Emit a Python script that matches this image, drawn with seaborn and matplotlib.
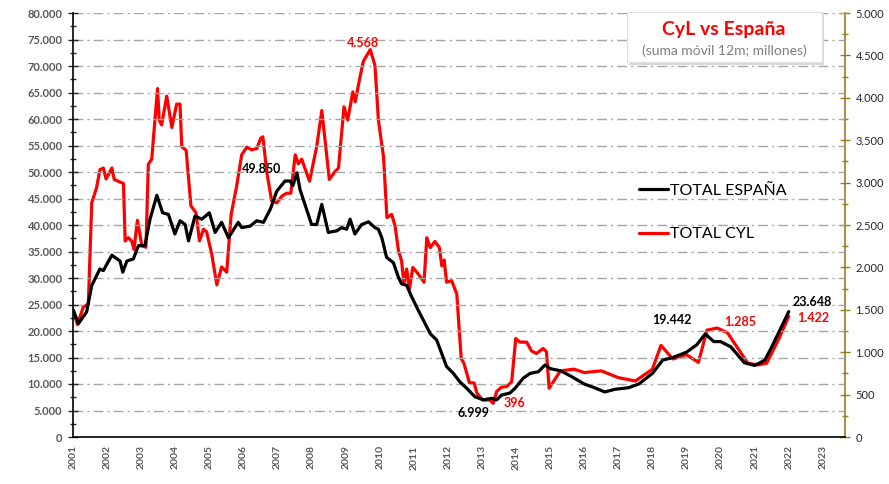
import numpy as np
import pandas as pd
import matplotlib
matplotlib.use("Agg")
import matplotlib.pyplot as plt
from matplotlib.ticker import MultipleLocator, FuncFormatter
import seaborn as sns

# ---------------- data (decimal year, value) ----------------
esp_years = [2001.01, 2001.16, 2001.40, 2001.55, 2001.79, 2001.89, 2002.14, 2002.38, 2002.46, 2002.58,
             2002.77, 2002.92, 2003.11, 2003.26, 2003.46, 2003.63, 2003.80, 2003.99, 2004.14, 2004.29,
             2004.39, 2004.58, 2004.78, 2005.00, 2005.17, 2005.36, 2005.56, 2005.85, 2005.95, 2006.20,
             2006.39, 2006.59, 2006.79, 2006.98, 2007.22, 2007.37, 2007.45, 2007.57, 2007.66, 2008.00,
             2008.15, 2008.30, 2008.49, 2008.74, 2008.88, 2009.03, 2009.13, 2009.27, 2009.47, 2009.67,
             2009.86, 2009.96, 2010.06, 2010.20, 2010.40, 2010.55, 2010.64, 2010.79, 2010.94, 2011.13,
             2011.33, 2011.48, 2011.67, 2011.96, 2012.16, 2012.35, 2012.55, 2012.79, 2013.04, 2013.28,
             2013.43, 2013.57, 2013.82, 2013.97, 2014.21, 2014.41, 2014.65, 2014.85, 2015.00, 2015.30,
             2015.60, 2016.00, 2016.30, 2016.60, 2016.90, 2017.30, 2017.60, 2018.00, 2018.30, 2018.60,
             2019.00, 2019.30, 2019.55, 2019.80, 2020.00, 2020.30, 2020.70, 2021.00, 2021.30, 2021.50,
             2021.80, 2022.00]
esp_values = [23.9, 21.4, 23.6, 28.6, 31.7, 31.4, 34.3, 33.2, 31.1, 33.2,
              33.6, 36.1, 36.1, 41.1, 45.6, 42.3, 42.0, 38.3, 40.8, 40.1,
              37.0, 41.7, 41.1, 42.3, 38.6, 40.5, 37.6, 40.5, 39.5, 39.8,
              40.8, 40.5, 43.0, 46.4, 48.3, 48.3, 47.4, 49.85, 46.7, 40.1,
              40.1, 43.9, 38.6, 38.9, 39.5, 39.2, 41.1, 38.3, 40.1, 40.6,
              39.5, 39.2, 37.6, 33.9, 32.9, 30.1, 28.9, 28.6, 26.4, 23.9,
              21.4, 19.5, 18.3, 13.3, 12.0, 10.4, 9.2, 7.6, 6.999, 7.3,
              7.0, 7.9, 8.3, 9.2, 11.1, 12.0, 12.3, 13.6, 12.9, 12.5,
              11.5, 10.0, 9.3, 8.5, 9.0, 9.3, 10.0, 12.0, 14.5, 15.0,
              16.0, 17.4, 19.442, 18.0, 18.0, 17.0, 14.0, 13.5, 14.5, 17.0,
              21.0, 23.648]
esp_values = [v * 1000 for v in esp_values]

cyl_years = [2001.01, 2001.13, 2001.30, 2001.45, 2001.55, 2001.69, 2001.79, 2001.89, 2001.97, 2002.14,
             2002.21, 2002.38, 2002.48, 2002.53, 2002.62, 2002.72, 2002.79, 2002.89, 2003.02, 2003.14,
             2003.21, 2003.31, 2003.48, 2003.53, 2003.60, 2003.75, 2003.90, 2004.04, 2004.14, 2004.19,
             2004.32, 2004.46, 2004.61, 2004.71, 2004.83, 2004.92, 2005.07, 2005.22, 2005.36, 2005.51,
             2005.64, 2005.80, 2005.95, 2006.10, 2006.24, 2006.39, 2006.51, 2006.57, 2006.69, 2006.83,
             2006.98, 2007.13, 2007.27, 2007.39, 2007.52, 2007.61, 2007.71, 2007.94, 2008.15, 2008.30,
             2008.52, 2008.69, 2008.79, 2008.95, 2009.06, 2009.21, 2009.28, 2009.42, 2009.52, 2009.72,
             2009.86, 2009.96, 2010.11, 2010.21, 2010.35, 2010.45, 2010.55, 2010.64, 2010.71, 2010.79,
             2010.87, 2010.97, 2011.13, 2011.30, 2011.38, 2011.48, 2011.62, 2011.75, 2011.82, 2011.89,
             2011.96, 2012.11, 2012.26, 2012.39, 2012.47, 2012.63, 2012.77, 2012.85, 2013.02, 2013.23,
             2013.33, 2013.43, 2013.57, 2013.72, 2013.87, 2013.99, 2014.11, 2014.31, 2014.45, 2014.60,
             2014.79, 2014.89, 2014.97, 2015.30, 2015.70, 2016.00, 2016.50, 2017.00, 2017.50, 2018.00,
             2018.25, 2018.60, 2019.00, 2019.35, 2019.60, 2019.90, 2020.20, 2020.50, 2020.80, 2021.10,
             2021.35, 2021.70, 2022.00]
cyl_values = [1494, 1325, 1531, 1570, 2762, 2937, 3152, 3172, 3043, 3172,
              3037, 3006, 2990, 2312, 2350, 2312, 2212, 2556, 2256, 2237,
              3215, 3277, 4109, 3738, 3680, 4020, 3650, 3925, 3925, 3425,
              3380, 2725, 2644, 2312, 2450, 2420, 2156, 1794, 2006, 1944,
              2625, 2956, 3328, 3418, 3387, 3400, 3525, 3540, 3112, 2781,
              2762, 2840, 2875, 2875, 3328, 3222, 3277, 3016, 3425, 3850,
              3037, 3131, 3172, 3894, 3738, 4069, 3953, 4244, 4431, 4568,
              4381, 3738, 3306, 2587, 2625, 2487, 2194, 2078, 1806, 1981,
              1744, 2000, 1922, 1825, 2350, 2234, 2306, 2234, 2019, 2087,
              1825, 1844, 1687, 925, 869, 640, 637, 516, 437, 437,
              396, 537, 587, 594, 650, 1162, 1119, 1119, 1016, 984,
              1044, 1006, 575, 780, 800, 760, 780, 700, 660, 800,
              1080, 920, 970, 880, 1260, 1285, 1230, 1050, 870, 850,
              870, 1150, 1422]

year_ticks = list(range(2001, 2024))
labels_esp = ["49.850", "6.999", "19.442", "23.648"]
labels_cyl = ["4.568", "396", "1.285", "1.422"]

df_esp = pd.DataFrame({"year": esp_years, "value": esp_values})
df_cyl = pd.DataFrame({"year": cyl_years, "value": cyl_values})

# ---------------- style ----------------
sns.set_style("white")
plt.rcParams["font.family"] = ["Lato", "DejaVu Sans"]

fig = plt.figure(figsize=(8.89, 4.84), dpi=100)
ax = fig.add_axes([73 / 889, 1 - 437 / 484, (845 - 73) / 889, (437 - 13) / 484])
ax2 = ax.twinx()

grey_txt = "#595959"
olive = "#9C7A22"

ax.set_xlim(2001, 2023.65)
ax.set_ylim(0, 80000)
ax2.set_ylim(0, 5000)

# gridlines
for v in range(5000, 80001, 5000):
    ax.axhline(v, color="#A6A6A6", lw=1.0, ls=(0, (7, 3, 1.5, 3)), zorder=0)

sns.lineplot(data=df_esp, x="year", y="value", ax=ax, color="black", lw=2.3,
             legend=False, zorder=3)
sns.lineplot(data=df_cyl, x="year", y="value", ax=ax2, color="#FF0000", lw=2.3,
             legend=False, zorder=3)
ax.set_zorder(ax2.get_zorder() + 1)
ax.patch.set_visible(False)

ax.set_xlabel("")
ax.set_ylabel("")
ax2.set_ylabel("")

thousands = FuncFormatter(lambda v, p: f"{int(v):,}".replace(",", "."))

ax.yaxis.set_major_locator(MultipleLocator(5000))
ax.yaxis.set_minor_locator(MultipleLocator(2500))
ax.yaxis.set_major_formatter(thousands)
ax.tick_params(axis="y", which="major", direction="inout", length=7, width=1,
               labelsize=8, labelcolor=grey_txt, pad=4)
ax.tick_params(axis="y", which="minor", direction="inout", length=5, width=1)
for t in ax.get_yticklabels():
    t.set_fontweight("bold")

ax.set_xticks(year_ticks)
ax.set_xticklabels([str(y) for y in year_ticks], rotation=90)
ax.tick_params(axis="x", which="major", direction="inout", length=6, width=1,
               labelsize=7.5, labelcolor=grey_txt, pad=3)
for t in ax.get_xticklabels():
    t.set_fontweight("bold")

ax2.yaxis.set_major_locator(MultipleLocator(500))
ax2.yaxis.set_minor_locator(MultipleLocator(250))
ax2.yaxis.set_major_formatter(thousands)
ax2.tick_params(axis="y", which="major", direction="inout", length=7, width=1,
                color=olive, labelsize=8, labelcolor="#262626", pad=4)
ax2.tick_params(axis="y", which="minor", direction="inout", length=5, width=1, color=olive)

for a in (ax, ax2):
    a.spines["top"].set_visible(False)
ax.spines["right"].set_visible(False)
ax2.spines["left"].set_visible(False)
ax2.spines["bottom"].set_visible(False)
ax2.spines["right"].set_color(olive)
ax2.spines["right"].set_linewidth(1.2)
ax.spines["left"].set_color("black")
ax.spines["bottom"].set_color("black")
ax.spines["left"].set_linewidth(1.2)
ax.spines["bottom"].set_linewidth(1.2)

# annotations
ax.annotate(labels_esp[0], xy=(2007.45, 49850), xytext=(262, 484 - 169), textcoords="figure pixels",
            ha="center", va="center", fontsize=9, fontweight="bold", color="black",
            arrowprops=dict(arrowstyle="-", color="#BFBFBF", lw=1, shrinkA=3, shrinkB=0))

def fig_text(x, y, s, color):
    fig.text(x / 889, 1 - y / 484, s, ha="center", va="center", fontsize=9,
             fontweight="bold", color=color)

fig_text(363, 43, labels_cyl[0], "#FF0000")
fig_text(474, 413, labels_esp[1], "black")
fig_text(514, 403, labels_cyl[1], "#FF0000")
fig_text(672, 320, labels_esp[2], "black")
fig_text(740, 322, labels_cyl[2], "#FF0000")
fig_text(812, 302, labels_esp[3], "black")
fig_text(813, 318, labels_cyl[3], "#FF0000")

# legend
h1, = ax.plot([], [], color="black", lw=2.3)
h2, = ax.plot([], [], color="#FF0000", lw=2.3)
leg = fig.legend([h1, h2], ["TOTAL ESPAÑA", "TOTAL CYL"], loc="upper left",
                 bbox_to_anchor=(625 / 889, 1 - 169 / 484), frameon=False,
                 fontsize=11.5, handlelength=1.8, handletextpad=0.1,
                 labelspacing=1.85, labelcolor="black")

# title box
box_x0, box_y0, box_x1, box_y1 = 627, 12, 822, 62
shadow = plt.Rectangle(((box_x0 + 2) / 889, 1 - (box_y1 + 3) / 484),
                       (box_x1 - box_x0) / 889, (box_y1 - box_y0) / 484,
                       transform=fig.transFigure, facecolor="#D9D9D9", edgecolor="none",
                       zorder=5)
box = plt.Rectangle((box_x0 / 889, 1 - box_y1 / 484),
                    (box_x1 - box_x0) / 889, (box_y1 - box_y0) / 484,
                    transform=fig.transFigure, facecolor="white", edgecolor="#E0E0E0",
                    lw=0.8, zorder=6)
fig.patches.extend([shadow, box])
fig.text(724 / 889, 1 - 30 / 484, "CyL vs España", ha="center", va="center",
         fontsize=14, fontweight="bold", color="#FF0000", zorder=7)
fig.text(724 / 889, 1 - 51 / 484, "(suma móvil 12m; millones)", ha="center", va="center",
         fontsize=10, color="#7F7F7F", zorder=7)

fig.savefig("out.png", dpi=100, facecolor="white")
